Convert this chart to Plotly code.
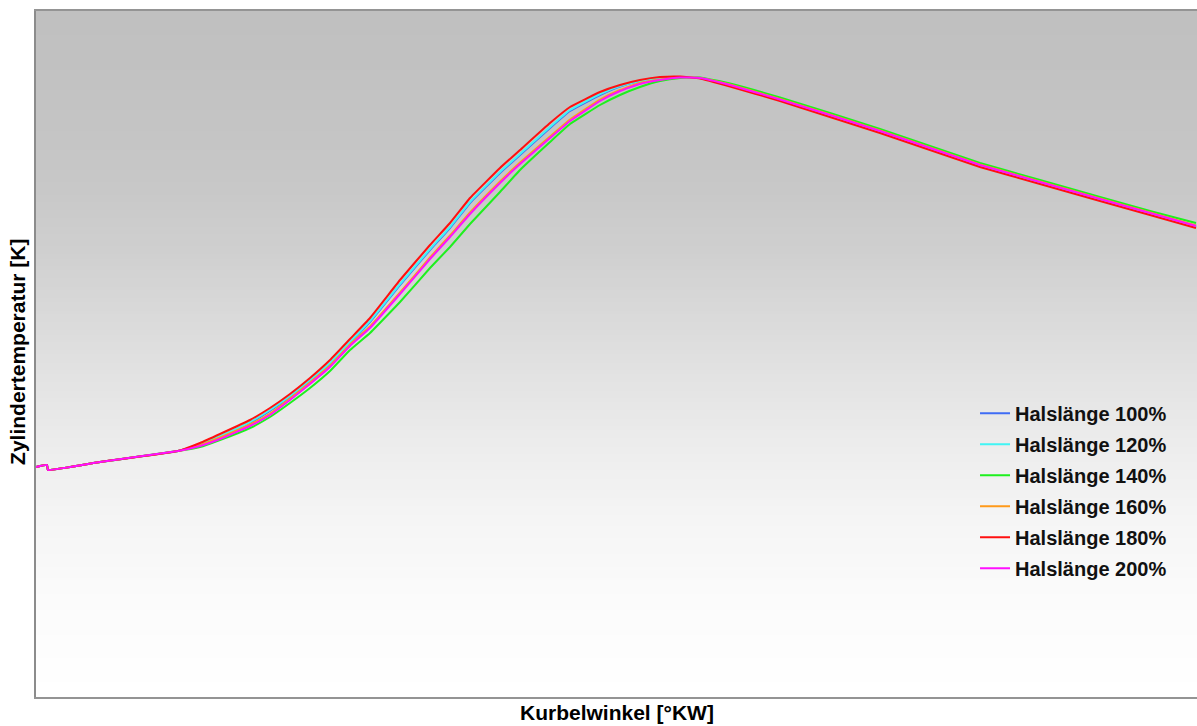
import numpy as np
import plotly.graph_objects as go

# Kurbelwinkel [°KW]
crank_angle = [-15.0, -14.45, -14.4, -11.8, -7.9, -6.8, -5.8, -4.3, -3.3, -2.3, -1.3, -0.3,
               0.7, 1.7, 3.2, 4.7, 5.7, 6.7, 8.2, 9.2, 10.7, 11.7, 13.2, 14.2, 15.2, 16.2,
               17.2, 18.2, 19.7, 22.2, 24.7, 27.2, 29.7, 32.2, 35.2, 38.2, 40.7, 43.0]

# common compression part before ignition [K]
t_start = [1060, 1064, 1054, 1070, 1092]

# Zylindertemperatur [K] per neck length variant (after ignition)
t_100 = [1104, 1120, 1148, 1172, 1200, 1232, 1266, 1308, 1350, 1424, 1494, 1538, 1588,
         1648, 1684, 1738, 1772, 1804, 1821, 1832, 1838, 1840, 1838, 1823, 1794, 1762,
         1730, 1696, 1662, 1628, 1594, 1566, 1540]
t_120 = [1106, 1122, 1150, 1174, 1202, 1234, 1268, 1310, 1352, 1426, 1496, 1540, 1590,
         1650, 1686, 1740, 1774, 1806, 1822, 1832, 1838, 1840, 1838, 1823, 1794, 1762,
         1730, 1696, 1662, 1628, 1594, 1566, 1540]
t_140 = [1100, 1114, 1138, 1160, 1188, 1218, 1252, 1294, 1328, 1390, 1458, 1500, 1546,
         1610, 1654, 1710, 1746, 1784, 1804, 1820, 1832, 1838, 1839, 1827, 1799, 1768,
         1736, 1702, 1668, 1634, 1600, 1572, 1548]
t_160 = [1104, 1119, 1145, 1167, 1197, 1229, 1263, 1305, 1341, 1409, 1479, 1523, 1569,
         1631, 1669, 1721, 1755, 1795, 1814, 1828, 1835, 1840, 1838, 1825, 1796, 1765,
         1733, 1699, 1665, 1631, 1597, 1569, 1543]
t_180 = [1108, 1126, 1154, 1178, 1206, 1238, 1274, 1316, 1358, 1434, 1504, 1548, 1598,
         1658, 1694, 1748, 1780, 1810, 1824, 1834, 1840, 1841, 1837, 1821, 1792, 1760,
         1728, 1694, 1660, 1626, 1592, 1564, 1538]
t_200 = [1102, 1116, 1142, 1164, 1194, 1226, 1260, 1302, 1338, 1406, 1476, 1520, 1566,
         1628, 1666, 1718, 1752, 1792, 1812, 1826, 1834, 1839, 1838, 1824, 1795, 1764,
         1732, 1698, 1664, 1630, 1596, 1568, 1542]

series_names = ["Halslänge 100%", "Halslänge 120%", "Halslänge 140%",
                "Halslänge 160%", "Halslänge 180%", "Halslänge 200%"]
series_values = [t_100, t_120, t_140, t_160, t_180, t_200]
series_colors = ["#3f6cf5", "#40f5f5", "#1ef01e", "#ff9a1a", "#ff1010", "#ff10ff"]

X_RANGE = [-15.0, 43.05]
Y_RANGE = [600, 1972]

fig = go.Figure()
for i, (name, vals, col) in enumerate(zip(series_names, series_values, series_colors)):
    fig.add_trace(go.Scatter(
        x=crank_angle, y=t_start + vals, mode="lines", name=name,
        legendgroup=f"g{i}",
        line=dict(color=col, width=2, shape="spline", smoothing=0.3),
    ))

# vertical grey-to-white gradient of the plot background
grad_py = np.array([11, 60, 120, 180, 250, 320, 380, 450, 520, 600, 670, 697])
grad_gray = np.array([192, 193, 196, 199, 207, 218, 227, 237, 245, 251, 254, 255])
top_px, bot_px = 11, 697
band = 4
shapes = []
for y0 in range(top_px, bot_px, band):
    y1 = min(y0 + band, bot_px)
    g = int(round(np.interp((y0 + y1) / 2, grad_py, grad_gray)))
    shapes.append(dict(
        type="rect", xref="paper", yref="paper", layer="below",
        x0=0, x1=1,
        y0=(bot_px - y1) / (bot_px - top_px), y1=(bot_px - y0) / (bot_px - top_px) + 0.001,
        fillcolor=f"rgb({g},{g},{g})", line=dict(width=0),
    ))

title_font = dict(family="Liberation Sans, Arial, sans-serif", size=21, color="#000000")

fig.update_layout(
    width=1197, height=726,
    margin=dict(l=36, r=0, t=11, b=29),
    paper_bgcolor="#ffffff",
    plot_bgcolor="rgba(0,0,0,0)",
    shapes=shapes,
    showlegend=True,
    legend=dict(
        x=0.8088, y=0.442, xanchor="left", yanchor="top",
        bgcolor="rgba(0,0,0,0)", borderwidth=0,
        tracegroupgap=2,
        font=dict(family="Liberation Sans, Arial, sans-serif", size=20, color="#111111",
                  weight="bold"),
    ),
    xaxis=dict(range=X_RANGE, showgrid=False, zeroline=False, showticklabels=False,
               ticks="", showline=True, linecolor="#949494", linewidth=2, mirror=True),
    yaxis=dict(range=Y_RANGE, showgrid=False, zeroline=False, showticklabels=False,
               ticks="", showline=True, linecolor="#8c8c8c", linewidth=2, mirror=False),
    annotations=[
        dict(text="<b>Kurbelwinkel [°KW]</b>", xref="paper", yref="paper",
             x=0.5004, y=-0.0233, xanchor="center", yanchor="middle",
             showarrow=False, font=title_font),
        dict(text="<b>Zylindertemperatur [K]</b>", xref="paper", yref="paper",
             x=-0.0155, y=0.503, xanchor="center", yanchor="middle", textangle=-90,
             showarrow=False, font=title_font),
    ],
)

fig.write_html("out.html")
